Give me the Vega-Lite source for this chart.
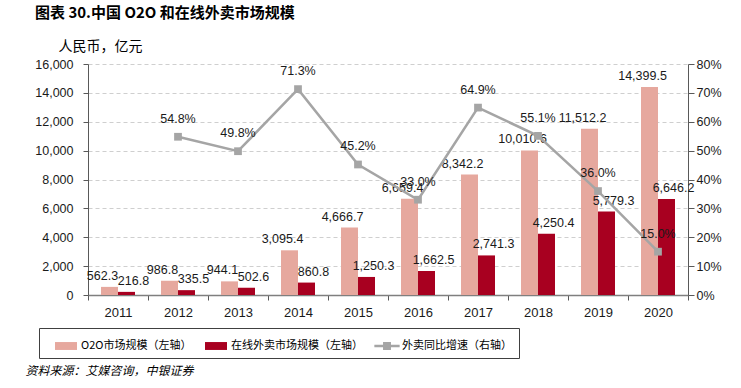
{
  "$schema": "https://vega.github.io/schema/vega-lite/v6.json",
  "autosize": "none",
  "width": 600,
  "height": 231,
  "padding": {"left": 88, "top": 64, "right": 53, "bottom": 93},
  "background": "white",
  "config": {
    "view": {"stroke": null},
    "font": "Liberation Sans",
    "text": {"font": "Liberation Sans", "fontSize": 12.5, "color": "#1a1a1a"}
  },
  "title": {
    "text": "图表 30.中国 O2O 和在线外卖市场规模",
    "anchor": "start",
    "frame": "group",
    "dx": -53,
    "font": "Noto Sans CJK SC",
    "fontSize": 15,
    "fontWeight": "bold",
    "color": "#000000",
    "offset": 18
  },
  "datasets": {
    "bars": [
      {"year": "2011", "series": "O2O市场规模（左轴）", "value": 562.3},
      {"year": "2012", "series": "O2O市场规模（左轴）", "value": 986.8},
      {"year": "2013", "series": "O2O市场规模（左轴）", "value": 944.1},
      {"year": "2014", "series": "O2O市场规模（左轴）", "value": 3095.4},
      {"year": "2015", "series": "O2O市场规模（左轴）", "value": 4666.7},
      {"year": "2016", "series": "O2O市场规模（左轴）", "value": 6659.4},
      {"year": "2017", "series": "O2O市场规模（左轴）", "value": 8342.2},
      {"year": "2018", "series": "O2O市场规模（左轴）", "value": 10010.6},
      {"year": "2019", "series": "O2O市场规模（左轴）", "value": 11512.2},
      {"year": "2020", "series": "O2O市场规模（左轴）", "value": 14399.5},
      {"year": "2011", "series": "在线外卖市场规模（左轴）", "value": 216.8},
      {"year": "2012", "series": "在线外卖市场规模（左轴）", "value": 335.5},
      {"year": "2013", "series": "在线外卖市场规模（左轴）", "value": 502.6},
      {"year": "2014", "series": "在线外卖市场规模（左轴）", "value": 860.8},
      {"year": "2015", "series": "在线外卖市场规模（左轴）", "value": 1250.3},
      {"year": "2016", "series": "在线外卖市场规模（左轴）", "value": 1662.5},
      {"year": "2017", "series": "在线外卖市场规模（左轴）", "value": 2741.3},
      {"year": "2018", "series": "在线外卖市场规模（左轴）", "value": 4250.4},
      {"year": "2019", "series": "在线外卖市场规模（左轴）", "value": 5779.3},
      {"year": "2020", "series": "在线外卖市场规模（左轴）", "value": 6646.2}
    ],
    "rate": [
      {"year": "2012", "rate": 0.548},
      {"year": "2013", "rate": 0.498},
      {"year": "2014", "rate": 0.713},
      {"year": "2015", "rate": 0.452},
      {"year": "2016", "rate": 0.330},
      {"year": "2017", "rate": 0.649},
      {"year": "2018", "rate": 0.551},
      {"year": "2019", "rate": 0.360},
      {"year": "2020", "rate": 0.150}
    ]
  },
  "encoding": {
    "x": {
      "field": "year",
      "type": "nominal",
      "sort": null,
      "scale": {
        "domain": ["2011", "2012", "2013", "2014", "2015", "2016", "2017", "2018", "2019", "2020"],
        "paddingInner": 0,
        "paddingOuter": 0
      },
      "axis": {
        "title": "资料来源：艾媒咨询，中银证券",
        "titleFont": "Noto Sans CJK SC",
        "titleFontSize": 12,
        "titleFontWeight": "normal",
        "titleFontStyle": "italic",
        "titleColor": "#000000",
        "titleAlign": "left",
        "titleBaseline": "middle",
        "titleAnchor": null,
        "titleX": -63,
        "titleY": 75,
        "labelAngle": 0,
        "labelFont": "Liberation Sans",
        "labelFontSize": 13,
        "labelColor": "#1a1a1a",
        "labelPadding": 6,
        "tickBand": "extent",
        "tickSize": 5,
        "tickColor": "#595959",
        "domainColor": "#7f7f7f",
        "domainWidth": 1.5,
        "grid": false
      }
    }
  },
  "layer": [
    {
      "data": {"name": "bars"},
      "encoding": {
        "y": {
          "field": "value",
          "type": "quantitative",
          "scale": {"domain": [0, 16000], "nice": false},
          "axis": {
            "title": "人民币，亿元",
            "titleFont": "Noto Sans CJK SC",
            "titleFontSize": 14,
            "titleFontWeight": "normal",
            "titleColor": "#000000",
            "titleAngle": 0,
            "titleAlign": "left",
            "titleBaseline": "middle",
            "titleAnchor": null,
            "titleX": -30,
            "titleY": -18,
            "values": [0, 2000, 4000, 6000, 8000, 10000, 12000, 14000, 16000],
            "format": ",d",
            "labelFont": "Liberation Sans",
            "labelFontSize": 12.5,
            "labelColor": "#1a1a1a",
            "labelPadding": 10,
            "tickSize": 5,
            "tickColor": "#595959",
            "domainColor": "#595959",
            "grid": true,
            "gridColor": "#cfcfcf",
            "gridDash": [4, 3],
            "gridWidth": 1
          }
        },
        "xOffset": {
          "field": "series",
          "type": "nominal",
          "sort": ["O2O市场规模（左轴）", "在线外卖市场规模（左轴）"],
          "scale": {"paddingInner": 0, "paddingOuter": 0.765}
        }
      },
      "layer": [
        {
          "mark": {"type": "bar"},
          "encoding": {
            "color": {
              "field": "series",
              "type": "nominal",
              "scale": {
                "domain": ["O2O市场规模（左轴）", "在线外卖市场规模（左轴）", "外卖同比增速（右轴）"],
                "range": ["#e6a89e", "#a80020", "#a5a5a5"]
              },
              "legend": {
                "orient": "none",
                "legendX": -49,
                "legendY": 264,
                "direction": "horizontal",
                "columns": 3,
                "columnPadding": 4,
                "title": null,
                "strokeColor": "#404040",
                "fillColor": "#ffffff",
                "padding": 7,
                "symbolOffset": 9,
                "symbolSize": 484,
                "labelFont": "Noto Sans CJK SC",
                "labelFontSize": 11,
                "labelColor": "#000000",
                "labelOffset": 4,
                "labelLimit": 300,
                "encode": {
                  "symbols": {
                    "update": {
                      "shape": {"signal": "datum.value === '外卖同比增速（右轴）' ? 'M-1.15,-0.12H1.15V0.12H-1.15Z M-0.36,-0.36H0.36V0.36H-0.36Z' : 'M-1,-0.36H1V0.36H-1Z'"},
                      "fill": {"signal": "scale('color', datum.value)"},
                      "stroke": {"value": "transparent"},
                      "strokeWidth": {"value": 0},
                      "opacity": {"value": 1}
                    }
                  }
                }
              }
            }
          }
        },
        {
          "transform": [{"filter": "datum.series === 'O2O市场规模（左轴）'"}],
          "mark": {"type": "text", "baseline": "bottom", "dy": -4, "dx": -7},
          "encoding": {
            "text": {"field": "value", "type": "quantitative", "format": ",.1f"}
          }
        },
        {
          "transform": [{"filter": "datum.series === '在线外卖市场规模（左轴）'"}],
          "mark": {"type": "text", "baseline": "bottom", "dy": -4, "dx": 7},
          "encoding": {
            "text": {"field": "value", "type": "quantitative", "format": ",.1f"}
          }
        }
      ]
    },
    {
      "data": {"name": "rate"},
      "encoding": {
        "y": {
          "field": "rate",
          "type": "quantitative",
          "scale": {"domain": [0, 0.8], "nice": false},
          "axis": {
            "orient": "right",
            "title": null,
            "values": [0, 0.1, 0.2, 0.3, 0.4, 0.5, 0.6, 0.7, 0.8],
            "format": ".0%",
            "labelFont": "Liberation Sans",
            "labelFontSize": 12.5,
            "labelColor": "#1a1a1a",
            "labelPadding": 2,
            "tickSize": 6,
            "tickColor": "#595959",
            "domainColor": "#595959",
            "grid": false
          }
        }
      },
      "layer": [
        {
          "mark": {"type": "line", "strokeWidth": 2.5},
          "encoding": {
            "color": {"datum": "外卖同比增速（右轴）", "type": "nominal"}
          }
        },
        {
          "mark": {"type": "point", "shape": "square", "filled": true, "size": 60, "opacity": 1},
          "encoding": {
            "color": {"datum": "外卖同比增速（右轴）", "type": "nominal"}
          }
        },
        {
          "mark": {"type": "text", "baseline": "bottom", "dy": -11},
          "encoding": {
            "text": {"field": "rate", "type": "quantitative", "format": ".1%"}
          }
        }
      ]
    }
  ],
  "resolve": {"scale": {"y": "independent"}}
}
